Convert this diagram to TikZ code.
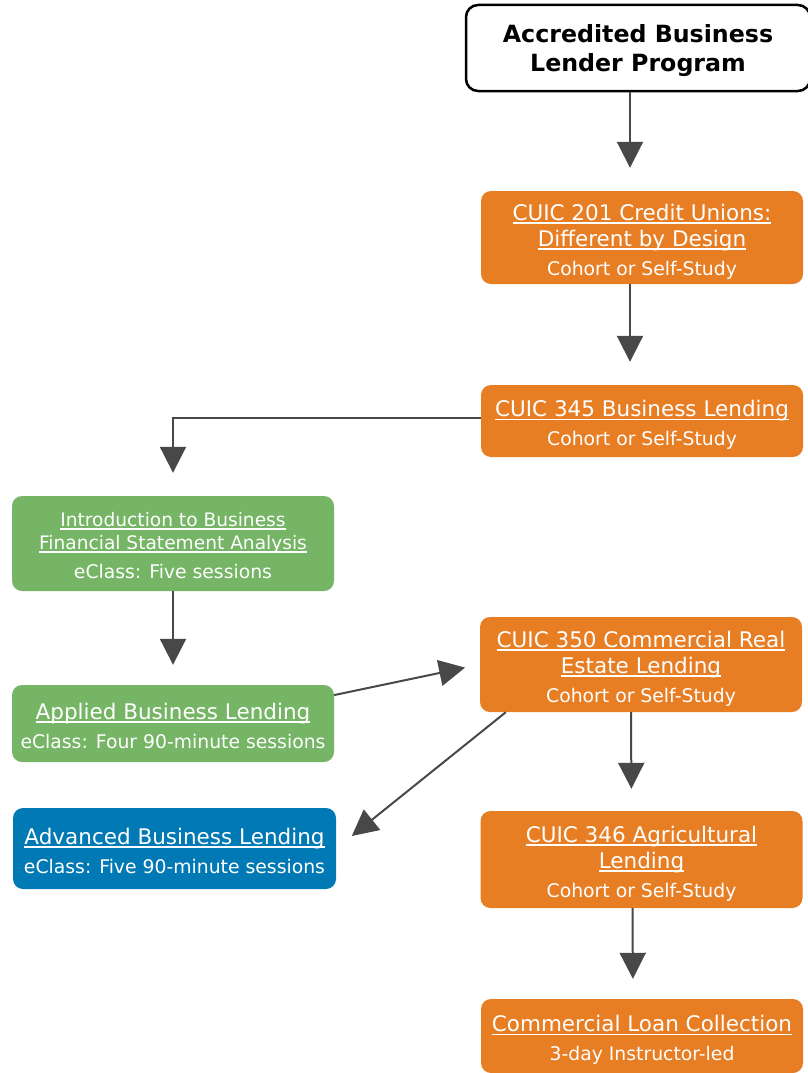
\documentclass[tikz,border=0pt]{standalone}
\usepackage{fontspec}
\setmainfont{DejaVu Sans}
\usetikzlibrary{arrows.meta,calc}
\definecolor{cuorange}{RGB}{232,126,36}
\definecolor{cugreen}{RGB}{117,181,101}
\definecolor{cublue}{RGB}{0,121,180}
\definecolor{flowgray}{RGB}{72,72,72}
\newcommand\lnk[1]{\setbox0\hbox{#1}\rlap{\rule[-0.16em]{\wd0}{0.065em}}\box0}
\newcommand\pad{\rule{0pt}{\dimexpr0.76em+4pt\relax}}
\newcommand\bigf{\fontsize{21.5}{26}\selectfont}
\newcommand\medf{\fontsize{18.6}{23}\selectfont}
\newcommand\smf{\fontsize{18.8}{23}\selectfont}
\begin{document}
\begin{tikzpicture} [x=1pt,y=-1pt, % ------ Lender program -----------------------------
    box/.style={rounded corners=10pt, minimum width=322pt, inner sep=0pt, align=center, text=white, font=\bigf,
      text depth=-3.5pt},
    orangebox/.style={box, fill=cuorange},
    greenbox/.style={box, fill=cugreen},
    bluebox/.style={box, fill=cublue},
    flow/.style={draw=flowgray, line width=2pt, -{Triangle[width=26pt,length=26pt]}, shorten >=23pt}]
    \useasboundingbox (0,0) rectangle (807,1073);
    \node [box, draw=black, line width=2.5pt, rounded corners=12pt, text=black, minimum width=344pt, minimum height=86pt,
      font=\bfseries\fontsize{23.7}{29}\selectfont] (acc) at (638,48) {Accredited Business\\Lender Program};
    \node [orangebox, minimum height=93pt] (c201) at (642,237.5)
      {\pad\lnk{CUIC 201 Credit Unions:}\\\lnk{Different by Design}\\[3pt]{\smf Cohort or Self-Study}};
    \node [orangebox, minimum height=72pt] (c345) at (642,421)
      {\pad\lnk{CUIC 345 Business Lending}\\[3pt]{\smf Cohort or Self-Study}};
    \node [greenbox, minimum height=95pt, font=\medf] (intro) at (173,543.5)
      {\pad\lnk{Introduction to Business}\\\lnk{Financial Statement Analysis}\\[6pt]{\smf eClass: Five sessions}};
    \node [greenbox, minimum height=77pt] (applied) at (173,723.5)
      {\pad\lnk{Applied Business Lending}\\[3pt]{\smf eClass: Four 90-minute sessions}};
    \node [orangebox, minimum height=95pt] (c350) at (641,664.5)
      {\pad\lnk{CUIC 350 Commercial Real}\\\lnk{Estate Lending}\\[3pt]{\smf Cohort or Self-Study}};
    \node [bluebox, minimum width=323pt, minimum height=81pt] (adv) at (174.5,848.5)
      {\pad\lnk{Advanced Business Lending}\\[3pt]{\smf eClass: Five 90-minute sessions}};
    \node [orangebox, minimum height=97pt] (c346) at (641.5,859.5)
      {\pad\lnk{CUIC 346 Agricultural}\\\lnk{Lending}\\[3pt]{\smf Cohort or Self-Study}};
    \node [orangebox, minimum height=74pt] (cloan) at (642,1036)
      {\pad\lnk{Commercial Loan Collection}\\[3pt]{\smf 3-day Instructor-led}};
    \draw [flow] ([xshift=-12pt]c201.north |- acc.south) -- ([xshift=-12pt]c201.north);
    \draw [flow] ([xshift=-12pt]c201.south) -- ([xshift=-12pt]c345.north);
    \draw [flow] ([yshift=3pt]c345.west) -| (intro.north);
    \draw [flow, shorten >=20pt] (intro) -- (applied);
    \draw [flow, shorten >=15pt] (applied.10) -- (c350.west);
    \draw [flow, shorten >=20pt] ([xshift=26pt]c350.south west) -- (adv.east);
    \draw [flow, shorten >=22pt] ([xshift=-10pt]c350.south) -- ([xshift=-10pt]c346.north);
    \draw [flow, shorten >=20pt] ([xshift=-9pt]c346.south) -- ([xshift=-9pt]cloan.north);
\end{tikzpicture}
\end{document}
